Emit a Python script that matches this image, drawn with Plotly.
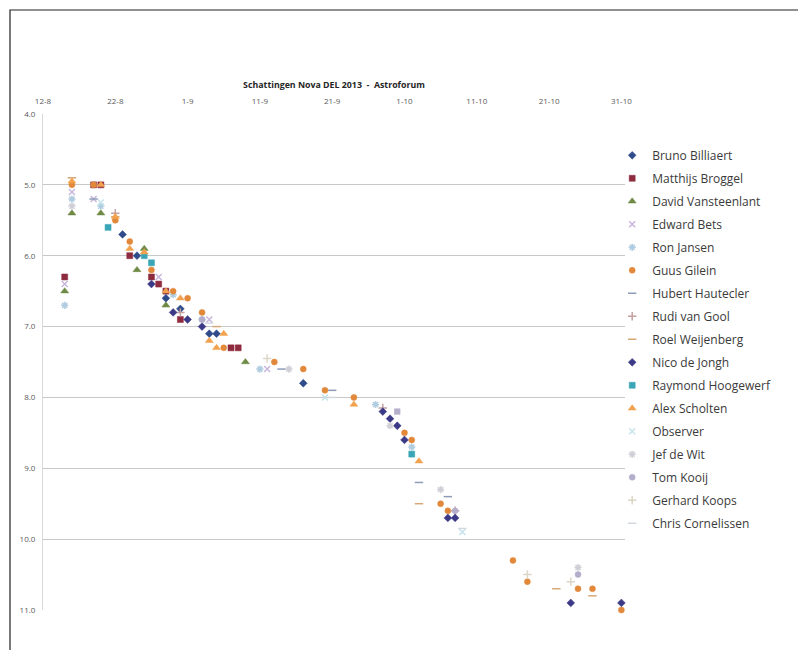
import plotly.graph_objects as go

# ---------------- data ----------------
observers = [
    "Bruno Billiaert", "Matthijs Broggel", "David Vansteenlant", "Edward Bets",
    "Ron Jansen", "Guus Gilein", "Hubert Hautecler", "Rudi van Gool",
    "Roel Weijenberg", "Nico de Jongh", "Raymond Hoogewerf", "Alex Scholten",
    "Observer", "Jef de Wit", "Tom Kooij", "Gerhard Koops", "Chris Cornelissen",
]

bruno_dates = ["2013-08-23", "2013-08-25", "2013-08-29", "2013-08-31", "2013-09-04", "2013-09-05", "2013-09-17"]
bruno_mags = [5.7, 6.0, 6.6, 6.75, 7.1, 7.1, 7.8]

matthijs_dates = ["2013-08-15", "2013-08-19", "2013-08-20", "2013-08-24", "2013-08-27", "2013-08-28", "2013-08-29", "2013-08-31", "2013-09-07", "2013-09-08"]
matthijs_mags = [6.3, 5.0, 5.0, 6.0, 6.3, 6.4, 6.5, 6.9, 7.3, 7.3]

david_dates = ["2013-08-15", "2013-08-16", "2013-08-20", "2013-08-25", "2013-08-26", "2013-08-29", "2013-09-09"]
david_mags = [6.5, 5.4, 5.4, 6.2, 5.9, 6.7, 7.5]

edward_dates = ["2013-08-15", "2013-08-16", "2013-08-19", "2013-08-28", "2013-09-04", "2013-09-12", "2013-09-30"]
edward_mags = [6.4, 5.1, 5.2, 6.3, 6.9, 7.6, 8.2]

ron_dates = ["2013-08-15", "2013-08-16", "2013-08-20", "2013-08-30", "2013-09-03", "2013-09-11", "2013-09-27", "2013-10-02"]
ron_mags = [6.7, 5.2, 5.3, 6.55, 6.9, 7.6, 8.1, 8.7]

guus_dates = ["2013-08-16", "2013-08-19", "2013-08-22", "2013-08-24", "2013-08-27", "2013-08-30", "2013-09-01", "2013-09-03",
              "2013-09-06", "2013-09-13", "2013-09-17", "2013-09-20", "2013-09-24", "2013-10-01", "2013-10-02", "2013-10-06",
              "2013-10-07", "2013-10-16", "2013-10-18", "2013-10-25", "2013-10-27", "2013-10-31"]
guus_mags = [5.0, 5.0, 5.5, 5.8, 6.2, 6.5, 6.6, 6.8,
             7.3, 7.5, 7.6, 7.9, 8.0, 8.5, 8.6, 9.5,
             9.6, 10.3, 10.6, 10.7, 10.7, 11.0]

hubert_dates = ["2013-08-19", "2013-09-14", "2013-09-21", "2013-10-03", "2013-10-07"]
hubert_mags = [5.2, 7.6, 7.9, 9.2, 9.4]

rudi_dates = ["2013-08-22", "2013-08-31", "2013-09-28", "2013-10-08"]
rudi_mags = [5.4, 6.8, 8.15, 9.6]

roel_dates = ["2013-08-16", "2013-08-22", "2013-09-05", "2013-10-03", "2013-10-22", "2013-10-27"]
roel_mags = [4.9, 5.45, 7.0, 9.5, 10.7, 10.8]

nico_dates = ["2013-08-27", "2013-08-30", "2013-09-01", "2013-09-03", "2013-09-28", "2013-09-29", "2013-09-30", "2013-10-01",
              "2013-10-07", "2013-10-08", "2013-10-24", "2013-10-31"]
nico_mags = [6.4, 6.8, 6.9, 7.0, 8.2, 8.3, 8.4, 8.6,
             9.7, 9.7, 10.9, 10.9]

raymond_dates = ["2013-08-21", "2013-08-26", "2013-08-27", "2013-10-02"]
raymond_mags = [5.6, 6.0, 6.1, 8.8]

alex_dates = ["2013-08-16", "2013-08-20", "2013-08-22", "2013-08-24", "2013-08-26", "2013-08-29", "2013-08-31", "2013-09-04",
              "2013-09-05", "2013-09-06", "2013-09-24", "2013-10-03"]
alex_mags = [4.95, 5.0, 5.45, 5.9, 5.95, 6.5, 6.6, 7.2,
             7.3, 7.1, 8.1, 8.9]

observer_dates = ["2013-08-20", "2013-09-20", "2013-10-09"]
observer_mags = [5.25, 8.0, 9.9]

jef_dates = ["2013-08-16", "2013-09-15", "2013-09-29", "2013-10-06", "2013-10-25"]
jef_mags = [5.3, 7.6, 8.4, 9.3, 10.4]

tom_dates = ["2013-09-03", "2013-09-30", "2013-10-08", "2013-10-25"]
tom_mags = [6.9, 8.2, 9.6, 10.5]

gerhard_dates = ["2013-09-12", "2013-10-18", "2013-10-24"]
gerhard_mags = [7.45, 10.5, 10.6]

chris_dates = ["2013-09-04", "2013-09-21", "2013-10-09"]
chris_mags = [6.95, 8.0, 9.85]

all_dates = [bruno_dates, matthijs_dates, david_dates, edward_dates, ron_dates, guus_dates,
             hubert_dates, rudi_dates, roel_dates, nico_dates, raymond_dates, alex_dates,
             observer_dates, jef_dates, tom_dates, gerhard_dates, chris_dates]
all_mags = [bruno_mags, matthijs_mags, david_mags, edward_mags, ron_mags, guus_mags,
            hubert_mags, rudi_mags, roel_mags, nico_mags, raymond_mags, alex_mags,
            observer_mags, jef_mags, tom_mags, gerhard_mags, chris_mags]

y_ticks = [4.0, 5.0, 6.0, 7.0, 8.0, 9.0, 10.0, 11.0]

# ---------------- styles ----------------
symbols = ["diamond", "square", "triangle-up", "x-thin", "asterisk", "circle", "line-ew", "cross-thin",
           "line-ew", "diamond", "square", "triangle-up", "x-thin", "asterisk", "circle", "cross-thin", "line-ew"]
colors = ["#2F4B8A", "#8E2B3F", "#6F8A45", "#C8B6DC", "#AFCCE0", "#E2883A", "#8E9CB8", "#C4A0A0",
          "#D6A878", "#3C3A86", "#3AA5B5", "#F2A24E", "#C6E3EC", "#CFCFD8", "#B5AECB", "#DCD6C6", "#D3D9E0"]
line_like = {"x-thin", "asterisk", "line-ew", "cross-thin"}

fig = go.Figure()
for i, name in enumerate(observers):
    sym = symbols[i]
    if sym in line_like:
        marker = dict(symbol=sym, size=6, color=colors[i], line=dict(color=colors[i], width=1.5))
    else:
        marker = dict(symbol=sym, size=6 if sym != "triangle-up" else 7, color=colors[i],
                      line=dict(color=colors[i], width=0.5))
    fig.add_trace(go.Scatter(x=all_dates[i], y=all_mags[i], mode="markers", name=name,
                             marker=marker, legendgroup=name, cliponaxis=False))

# the page is shown with an 8px body offset; layout numbers compensate for it
PL, PR, PT, PB = 35, 189, 106, 48
PW, PH = 806 - PL - PR, 650 - PT - PB

fig.update_layout(
    width=806, height=650,
    margin=dict(l=PL, r=PR, t=PT, b=PB),
    paper_bgcolor="white", plot_bgcolor="white",
    font=dict(family="Open Sans", color="#404040"),
    title=dict(text="<b>Schattingen Nova DEL 2013  -  Astroforum</b>", x=0.5, xref="paper",
               y=1 - 77 / 650, yref="container", xanchor="center", yanchor="middle",
               font=dict(size=8.8, color="#262626", family="Open Sans")),
    xaxis=dict(type="date", side="top", range=["2013-08-12", "2013-10-31 12:00"],
               tick0="2013-08-12", dtick=10 * 86400000, tickformat="%-d-%-m",
               showgrid=False, zeroline=False, showline=False,
               tickfont=dict(size=8, color="#595959"), ticks="", ticklabelstandoff=7),
    yaxis=dict(range=[11.0, 4.0], tickvals=y_ticks, ticktext=[f"{v:.1f}" for v in y_ticks],
               showgrid=True, gridcolor="#C8C8C8", gridwidth=1.3, zeroline=False,
               showline=True, linecolor="#D9D9D9", linewidth=1,
               tickfont=dict(size=8, color="#595959"), ticks="", ticklabelstandoff=5),
    legend=dict(x=0.978, xanchor="left", y=0.946, yanchor="top", bgcolor="rgba(0,0,0,0)",
                font=dict(size=12, color="#3A3A3A", family="Open Sans"), tracegroupgap=4),
    shapes=[dict(type="rect", xref="paper", yref="paper",
                 x0=(2 - PL) / PW, x1=(792 - PL) / PW,
                 y0=(650 - PB - 660) / PH, y1=(650 - PB - 2) / PH,
                 line=dict(color="#222222", width=1.2), fillcolor="rgba(0,0,0,0)", layer="below")],
)

fig.write_html("out.html")
